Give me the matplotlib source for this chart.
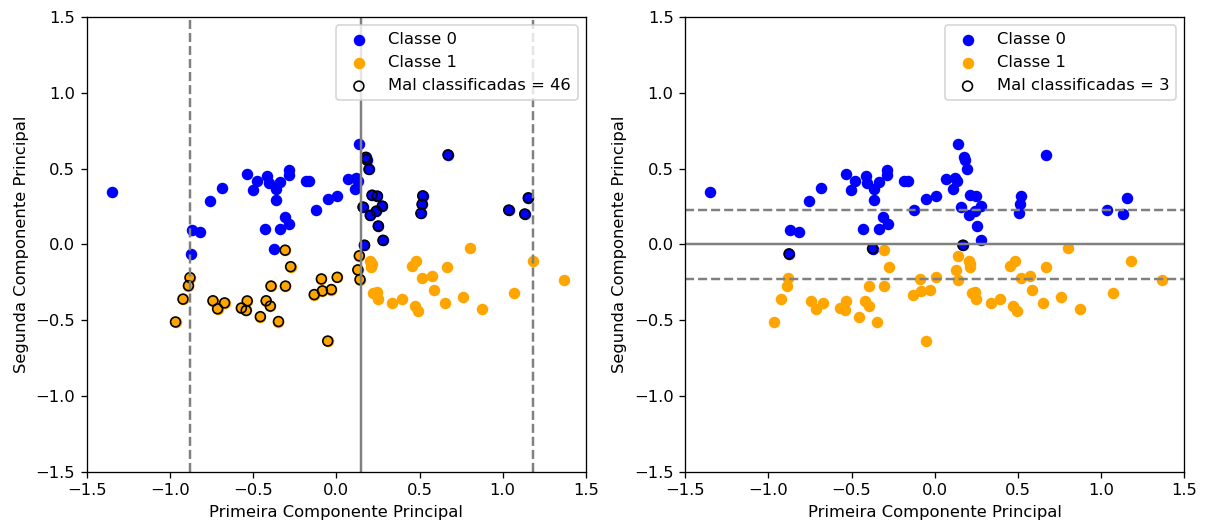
import matplotlib
matplotlib.use('Agg')
import matplotlib.pyplot as plt
import numpy as np

# Classe 0 - primeira e segunda componente principal
classe0_pc1 = [-1.350, -0.870, -0.818, -0.876, -0.757, -0.685, -0.536, -0.477, -0.503, -0.414,
               -0.405, -0.364, -0.336, -0.286, -0.286, -0.363, -0.309, -0.284, -0.337, -0.430,
               -0.374, -0.183, -0.162, -0.124, -0.052, 0.006, 0.069, 0.121, 0.131, 0.110,
               0.138, 0.671, 0.176, 0.182, 0.196, 0.214, 0.246, 0.160, 0.276, 0.240,
               0.204, 0.252, 0.280, 0.169, 0.519, 0.515, 0.508, 1.036, 1.132, 1.154]
classe0_pc2 = [0.344, 0.097, 0.079, -0.062, 0.284, 0.376, 0.468, 0.421, 0.360, 0.451,
               0.404, 0.365, 0.413, 0.493, 0.459, 0.296, 0.184, 0.135, 0.104, 0.104,
               -0.028, 0.417, 0.421, 0.230, 0.297, 0.320, 0.429, 0.437, 0.418, 0.365,
               0.664, 0.592, 0.575, 0.560, 0.496, 0.325, 0.319, 0.247, 0.253, 0.220,
               0.192, 0.122, 0.027, -0.005, 0.321, 0.265, 0.205, 0.227, 0.201, 0.308]

# Classe 1 - primeira e segunda componente principal
classe1_pc1 = [-0.967, -0.922, -0.889, -0.880, -0.742, -0.714, -0.672, -0.571, -0.542, -0.536,
               -0.457, -0.422, -0.397, -0.348, -0.393, -0.306, -0.308, -0.275, -0.133, -0.090,
               -0.084, -0.030, 0.005, -0.052, 0.138, 0.129, 0.142, 0.204, 0.212, 0.210,
               0.222, 0.244, 0.248, 0.337, 0.395, 0.470, 0.492, 0.455, 0.480, 0.517,
               0.575, 0.587, 0.666, 0.651, 0.761, 0.801, 0.876, 1.070, 1.182, 1.366]
classe1_pc2 = [-0.512, -0.361, -0.272, -0.219, -0.372, -0.425, -0.386, -0.420, -0.436, -0.373,
               -0.477, -0.372, -0.407, -0.509, -0.275, -0.275, -0.038, -0.147, -0.331, -0.228,
               -0.307, -0.298, -0.217, -0.638, -0.075, -0.168, -0.232, -0.110, -0.127, -0.152,
               -0.320, -0.312, -0.360, -0.387, -0.358, -0.405, -0.442, -0.140, -0.112, -0.224,
               -0.208, -0.301, -0.149, -0.385, -0.349, -0.022, -0.428, -0.319, -0.108, -0.235]

# limiares de decisao e margens (tracejadas) para cada componente
limiar_pc1 = 0.15
margem_pc1 = 1.03
limiar_pc2 = 0.0
margem_pc2 = 0.23

X = np.column_stack([classe0_pc1 + classe1_pc1, classe0_pc2 + classe1_pc2])
y = np.array([0] * len(classe0_pc1) + [1] * len(classe1_pc1))

# classificador 1: pela primeira componente (classe 1 a direita do limiar)
pred_pc1 = (X[:, 0] > limiar_pc1).astype(int)
# classificador 2: pela segunda componente (classe 1 abaixo do limiar)
pred_pc2 = (X[:, 1] < limiar_pc2).astype(int)

plt.figure(figsize=(1206 / 118, 524 / 118), dpi=118)
plt.subplots_adjust(left=0.072, right=0.982, bottom=0.100, top=0.967, wspace=0.199)

# Plot pela primeira componente
plt.subplot(1, 2, 1)
plt.scatter(X[y == 0, 0], X[y == 0, 1], color='blue', label='Classe 0')
plt.scatter(X[y == 1, 0], X[y == 1, 1], color='orange', label='Classe 1')
plt.axvline(limiar_pc1, color='gray')
plt.axvline(limiar_pc1 - margem_pc1, color='gray', linestyle='--')
plt.axvline(limiar_pc1 + margem_pc1, color='gray', linestyle='--')
erros = pred_pc1 != y
plt.scatter(X[erros, 0], X[erros, 1], facecolors='none', edgecolors='k',
            label='Mal classificadas = %d' % erros.sum())
plt.xlim(-1.5, 1.5)
plt.ylim(-1.5, 1.5)
plt.xticks(np.arange(-1.5, 1.6, 0.5))
plt.yticks(np.arange(-1.5, 1.6, 0.5))
plt.xlabel('Primeira Componente Principal')
plt.ylabel('Segunda Componente Principal')
plt.legend(loc='upper right')

# Plot pela segunda componente
plt.subplot(1, 2, 2)
plt.scatter(X[y == 0, 0], X[y == 0, 1], color='blue', label='Classe 0')
plt.scatter(X[y == 1, 0], X[y == 1, 1], color='orange', label='Classe 1')
plt.axhline(limiar_pc2, color='gray')
plt.axhline(limiar_pc2 - margem_pc2, color='gray', linestyle='--')
plt.axhline(limiar_pc2 + margem_pc2, color='gray', linestyle='--')
erros = pred_pc2 != y
plt.scatter(X[erros, 0], X[erros, 1], facecolors='none', edgecolors='k',
            label='Mal classificadas = %d' % erros.sum())
plt.xlim(-1.5, 1.5)
plt.ylim(-1.5, 1.5)
plt.xticks(np.arange(-1.5, 1.6, 0.5))
plt.yticks(np.arange(-1.5, 1.6, 0.5))
plt.xlabel('Primeira Componente Principal')
plt.ylabel('Segunda Componente Principal')
plt.legend(loc='upper right')

plt.savefig('out.png')
